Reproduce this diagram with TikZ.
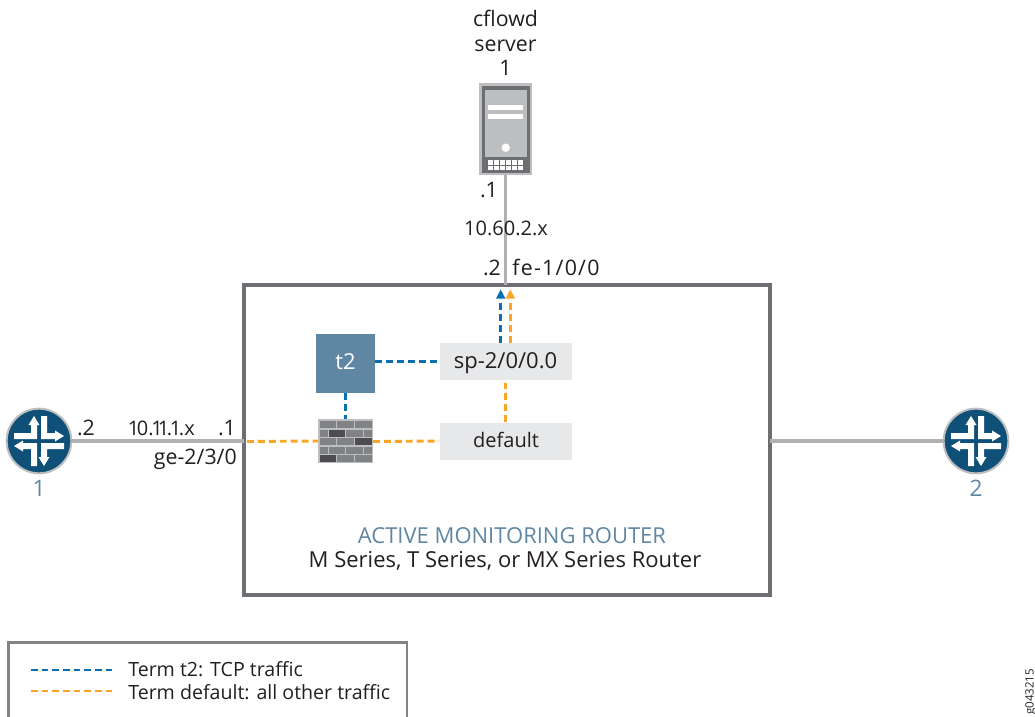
\documentclass[tikz,border=0pt]{standalone}
\usepackage{fontspec}
\setmainfont{Open Sans}
\definecolor{jblue}{HTML}{0F5078}
\definecolor{steel}{HTML}{5F87A3}
\definecolor{tblue}{HTML}{0A6FB0}
\definecolor{torange}{HTML}{F9A526}
\definecolor{boxgray}{HTML}{6D6E71}
\definecolor{linegray}{HTML}{B0B1B3}
\definecolor{panelgray}{HTML}{BCBEC0}
\definecolor{lightbox}{HTML}{E7E8EA}
\definecolor{txt}{HTML}{231F20}
\definecolor{brickm}{HTML}{808285}
\definecolor{brickd}{HTML}{4D4D4F}
\tikzset{
 x=0.75pt,y=-0.75pt,
 lab/.style={font=\fontsize{16}{18}\selectfont,text=txt,inner sep=0pt,anchor=base},
 leg/.style={font=\fontsize{14.7}{17}\selectfont,text=txt,inner sep=0pt,anchor=base west},
 link/.style={draw=linegray,line width=2.3pt},
 bluedash/.style={draw=tblue,line width=2.2pt,dash pattern=on 5.2pt off 3pt},
 orangedash/.style={draw=torange,line width=2.2pt,dash pattern=on 5.2pt off 3pt},
 ifbox/.style={fill=lightbox,minimum width=99pt,minimum height=27.75pt,inner sep=0pt},
 router/.style={circle,fill=jblue,draw=panelgray,line width=1.5pt,minimum size=48.5pt,inner sep=0pt,outer sep=0pt},
}
\newcommand{\narrowone}{\kern-1.8pt 1\kern-1.8pt}
\begin{document}
\begin{tikzpicture}
\useasboundingbox (0,0) rectangle (1035,717);
\clip (0,0) rectangle (1035,717);
\fill[white] (0,0) rectangle (1035,717);

% server
\node[inner sep=0pt,minimum width=39.75pt,minimum height=69pt,fill=panelgray,outer sep=0pt] (server) at (505.5,129) {};
\fill[boxgray] (482,86) rectangle (530,172.5);
\fill[panelgray] (485,90) rectangle (527,157);
\fill[white] (488,105) rectangle (523,110);
\fill[white] (488,113.5) rectangle (523,119);
\fill[white] (505.7,147.7) circle (4.2);
\foreach \i in {0,...,5}{\foreach \j in {0,1}{
 \fill[white] ({487.5+\i*6},{160+\j*5.5}) rectangle ++(5,4.5);}}

% main box
\node[draw=boxgray,line width=3.6pt,minimum width=394.5pt,minimum height=232.5pt,inner sep=0pt,outer sep=0pt] (mainbox) at (507,440) {};

% routers
\foreach \n/\cx/\lbl in {r1/39/1,r2/976/2}{
 \node[router] (\n) at (\cx,441) {};
 \begin{scope}[shift={(\cx,441)}]
  \foreach \a in {0,90,180,270}{
   \fill[white,rotate=\a] (-25,-8) -- (-8,-8) -- (-8,-16) -- (-10.5,-16) -- (-5,-25) -- (0.5,-16) -- (-2,-16) -- (-2,-2) -- (-25,-2) -- cycle;
  }
 \end{scope}
 \node[font=\fontsize{17}{18}\selectfont,text=steel,inner sep=0pt,anchor=base] at (\cx,496) {\lbl};
}

% connectors
\draw[link] (server.south) -- (server.south |- mainbox.north);
\draw[link] (r1) -- (r1 -| mainbox.west);
\draw[link] (mainbox.east |- r2) -- (r2);

% server labels
\node[lab] at (505.5,27) {cflowd};
\node[lab] at (505.5,52) {server};
\node[lab] at (505.5,75) {1};
\node[lab] at (489,197) {.1};
\node[lab,font=\fontsize{15}{18}\selectfont] at (506,235) {10.60.2.x};
\node[lab] at (492,275) {.2};
\node[lab,anchor=base west] at (512,275) {\addfontfeature{LetterSpace=6}fe-1/0/0};

% left labels
\node[lab] at (86,435) {.2};
\node[lab,font=\fontsize{15}{18}\selectfont] at (162.5,435) {\narrowone 0.\narrowone\narrowone.\narrowone.x};
\node[lab] at (227,435) {.1};
\node[lab,anchor=base east] at (237,464) {ge-2/3/0};

% internal nodes
\node[fill=steel,minimum size=44.25pt,inner sep=0pt,outer sep=0pt] (t2) at (345.5,363.5) {};
\node[lab,text=white,font=\fontsize{16.5}{18}\selectfont] at (345.5,369) {t2};
\node[ifbox] (sp) at (505.5,361.5) {};
\node[lab,font=\fontsize{16.5}{18}\selectfont] at (505.5,368) {sp-2/0/0.0};
\node[ifbox] (def) at (505.5,441) {};
\node[lab,font=\fontsize{15}{18}\selectfont] at (506,447.5) {default};

% firewall
\node[fill=panelgray,minimum width=41.25pt,minimum height=33pt,inner sep=0pt,outer sep=0pt] (fw) at (345.5,441) {};
\foreach \x/\y/\w/\c in {
  319.5/421/16.5/brickm,337/421/17/brickm,355/421/17/brickm,
  319.5/429.5/8/brickm,328.5/429.5/16.5/brickd,346/429.5/17/brickm,364/429.5/8/brickm,
  319.5/438/16.5/brickm,337/438/17/brickm,355/438/17/brickd,
  319.5/446.5/8/brickm,328.5/446.5/16.5/brickm,346/446.5/17/brickm,364/446.5/8/brickm,
  319.5/455/16.5/brickd,337/455/17/brickm,355/455/17/brickm}{
  \fill[\c] (\x,\y) rectangle ++(\w,7);}

% dashed flows
\draw[orangedash] (mainbox.west |- fw) ++(3,0.5) -- (fw.west);
\draw[orangedash] (fw.east) ++(0,0.5) -- (def.west);
\draw[orangedash] (def.north) -- (sp.south);
\draw[bluedash] (t2.east |- sp.west) -- (sp.west);
\draw[bluedash] (t2.south) -- (fw.north);
\coordinate (ba) at (500.7,299);
\coordinate (oa) at (510.3,299);
\draw[bluedash] (ba |- sp.north) -- (ba);
\draw[orangedash] (oa |- sp.north) -- (oa);
\fill[tblue] (500.7,289.5) -- (505.4,298.5) -- (496,298.5) -- cycle;
\fill[torange] (510.3,289.5) -- (515,298.5) -- (505.6,298.5) -- cycle;

% captions
\node[lab,text=steel,font=\fontsize{16.5}{18}\selectfont] at (512,543) {ACTIVE MONITORING ROUTER};
\node[lab,font=\fontsize{16.5}{18}\selectfont] at (505,567) {M Series, T Series, or MX Series Router};

% legend
\node[draw=boxgray!85!white,line width=1.9pt,minimum width=299pt,minimum height=80pt,anchor=north west,inner sep=0pt,outer sep=0pt] (legend) at (8.5,642.5) {};
\coordinate (l1a) at (31,670);
\coordinate (l1b) at (112,670);
\coordinate (l2a) at (31,691);
\coordinate (l2b) at (112,691);
\draw[draw=tblue,line width=1.7pt,dash pattern=on 5pt off 3pt] (l1a) -- (l1b);
\draw[draw=torange,line width=1.7pt,dash pattern=on 5pt off 3pt] (l2a) -- (l2b);
\node[leg] at (128,676.5) {Term t2: TCP traffic};
\node[leg] at (128,699) {Term default: all other traffic};

\node[rotate=90,anchor=base west,font=\fontsize{8.6}{10}\selectfont,text=txt,inner sep=0pt] at (1033.5,715) {g043215};
\end{tikzpicture}
\end{document}
